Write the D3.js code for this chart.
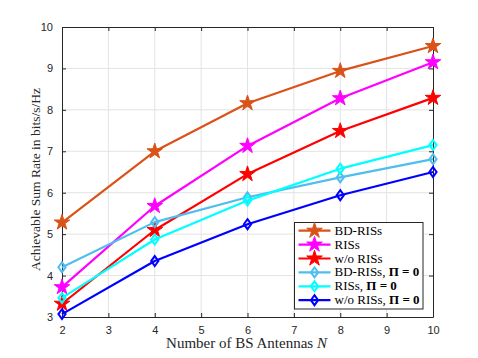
<!DOCTYPE html>
<html><head><meta charset="utf-8">
<script src="https://cdn.jsdelivr.net/npm/d3@7"></script>
<style>body{margin:0;background:#fff}svg{display:block}</style>
</head><body><svg id="c" width="478" height="358"></svg>
<script>
const xVals = [2, 4, 6, 8, 10];
const xTicks = [2, 3, 4, 5, 6, 7, 8, 9, 10];
const yTicks = [3, 4, 5, 6, 7, 8, 9, 10];
const bdRIS = [5.28, 7.00, 8.16, 8.94, 9.54];
const ris = [3.72, 5.68, 7.13, 8.28, 9.15];
const woRIS = [3.32, 5.10, 6.45, 7.49, 8.29];
const bdRIS0 = [4.20, 5.29, 5.89, 6.37, 6.81];
const ris0 = [3.46, 4.87, 5.81, 6.58, 7.15];
const woRIS0 = [3.07, 4.35, 5.24, 5.94, 6.50];
const series = [
  {name: "BD-RISs", pi: false, vals: bdRIS, color: "#D95319", marker: "star"},
  {name: "RISs", pi: false, vals: ris, color: "#FF00FF", marker: "star"},
  {name: "w/o RISs", pi: false, vals: woRIS, color: "#FF0000", marker: "star"},
  {name: "BD-RISs, ", pi: true, vals: bdRIS0, color: "#4DBEEE", marker: "diamond"},
  {name: "RISs, ", pi: true, vals: ris0, color: "#00FFFF", marker: "diamond"},
  {name: "w/o RISs, ", pi: true, vals: woRIS0, color: "#0000FF", marker: "diamond"}
];

const SERIF = "'Liberation Serif','Times New Roman',serif";
const SANS = "'Liberation Sans',Arial,Helvetica,sans-serif";
const svg = d3.select("#c");
const L = 62, R = 433, T = 27, B = 317;
const x = d3.scaleLinear().domain([2, 10]).range([L, R]);
const y = d3.scaleLinear().domain([3, 10]).range([B, T]);
const axisColor = "#262626";

// grid
svg.append("g").selectAll("line").data(xTicks.slice(1, -1)).join("line")
  .attr("x1", d => x(d)).attr("x2", d => x(d)).attr("y1", T).attr("y2", B)
  .attr("stroke", "#e3e3e3").attr("stroke-width", 1);
svg.append("g").selectAll("line").data(yTicks.slice(1, -1)).join("line")
  .attr("y1", d => y(d)).attr("y2", d => y(d)).attr("x1", L).attr("x2", R)
  .attr("stroke", "#e3e3e3").attr("stroke-width", 1);

// axes
const fmt = d3.format("d");
const gx = svg.append("g").attr("transform", `translate(0,${B})`)
  .call(d3.axisBottom(x).tickValues(xTicks).tickFormat(fmt).tickSizeInner(-4).tickSizeOuter(0).tickPadding(9));
const gxt = svg.append("g").attr("transform", `translate(0,${T})`)
  .call(d3.axisTop(x).tickValues(xTicks).tickFormat("").tickSizeInner(-4).tickSizeOuter(0));
const gy = svg.append("g").attr("transform", `translate(${L},0)`)
  .call(d3.axisLeft(y).tickValues(yTicks).tickFormat(fmt).tickSizeInner(-4).tickSizeOuter(0).tickPadding(9));
const gyr = svg.append("g").attr("transform", `translate(${R},0)`)
  .call(d3.axisRight(y).tickValues(yTicks).tickFormat("").tickSizeInner(-4).tickSizeOuter(0));
[gx, gxt, gy, gyr].forEach(g => {
  g.attr("font-family", null).attr("font-size", null);
  g.selectAll("path").attr("stroke", axisColor).attr("stroke-width", 1);
  g.selectAll("line").attr("stroke", axisColor);
  g.selectAll("text").attr("fill", axisColor).style("font-family", SANS).style("font-size", "11px");
});

// lines
const line = d3.line().x((d, i) => x(xVals[i])).y(d => y(d));
const star = d3.symbol().type(d3.symbolStar).size(75);
const diamond = "M0,-5L3.6,0L0,5L-3.6,0Z";
function drawMarker(g, m, color) {
  if (m === "star") {
    g.append("path").attr("d", star()).attr("fill", color).attr("stroke", color).attr("stroke-width", 1);
  } else {
    g.append("path").attr("d", diamond).attr("fill", "none").attr("stroke", color).attr("stroke-width", 2);
  }
}
series.forEach(s => {
  svg.append("path").datum(s.vals).attr("d", line).attr("fill", "none")
    .attr("stroke", s.color).attr("stroke-width", 2.2).attr("stroke-linejoin", "round");
  s.vals.forEach((v, i) => {
    const g = svg.append("g").attr("transform", `translate(${x(xVals[i])},${y(v)})`);
    drawMarker(g, s.marker, s.color);
  });
});

// legend
const lg = svg.append("g");
lg.append("rect").attr("x", 294.5).attr("y", 222.5).attr("width", 128.5).attr("height", 86.5)
  .attr("fill", "#fff").attr("stroke", axisColor).attr("stroke-width", 1);
series.forEach((s, i) => {
  const yy = 230.7 + i * 13.9;
  lg.append("line").attr("x1", 298.5).attr("x2", 330.5).attr("y1", yy).attr("y2", yy)
    .attr("stroke", s.color).attr("stroke-width", 2.2);
  const mg = lg.append("g").attr("transform", `translate(314.5,${yy})`);
  drawMarker(mg, s.marker, s.color);
  const t = lg.append("text").attr("x", 334.5).attr("y", yy + 4)
    .style("font-family", SERIF).style("font-size", "13px").attr("fill", "#000");
  t.append("tspan").text(s.name);
  if (s.pi) t.append("tspan").attr("font-weight", "bold").text("Π = 0");
});

// axis labels
const xl = svg.append("text").attr("x", 246.5).attr("y", 348).attr("text-anchor", "middle")
  .style("font-family", SERIF).style("font-size", "15px").attr("fill", axisColor);
xl.append("tspan").text("Number of BS Antennas ");
xl.append("tspan").attr("font-style", "italic").text("N");
svg.append("text").attr("transform", `translate(39.5,179.5) rotate(-90)`).attr("text-anchor", "middle")
  .style("font-family", SERIF).style("font-size", "13.5px").attr("fill", axisColor)
  .text("Achievable Sum Rate in bits/s/Hz");
</script></body></html>
